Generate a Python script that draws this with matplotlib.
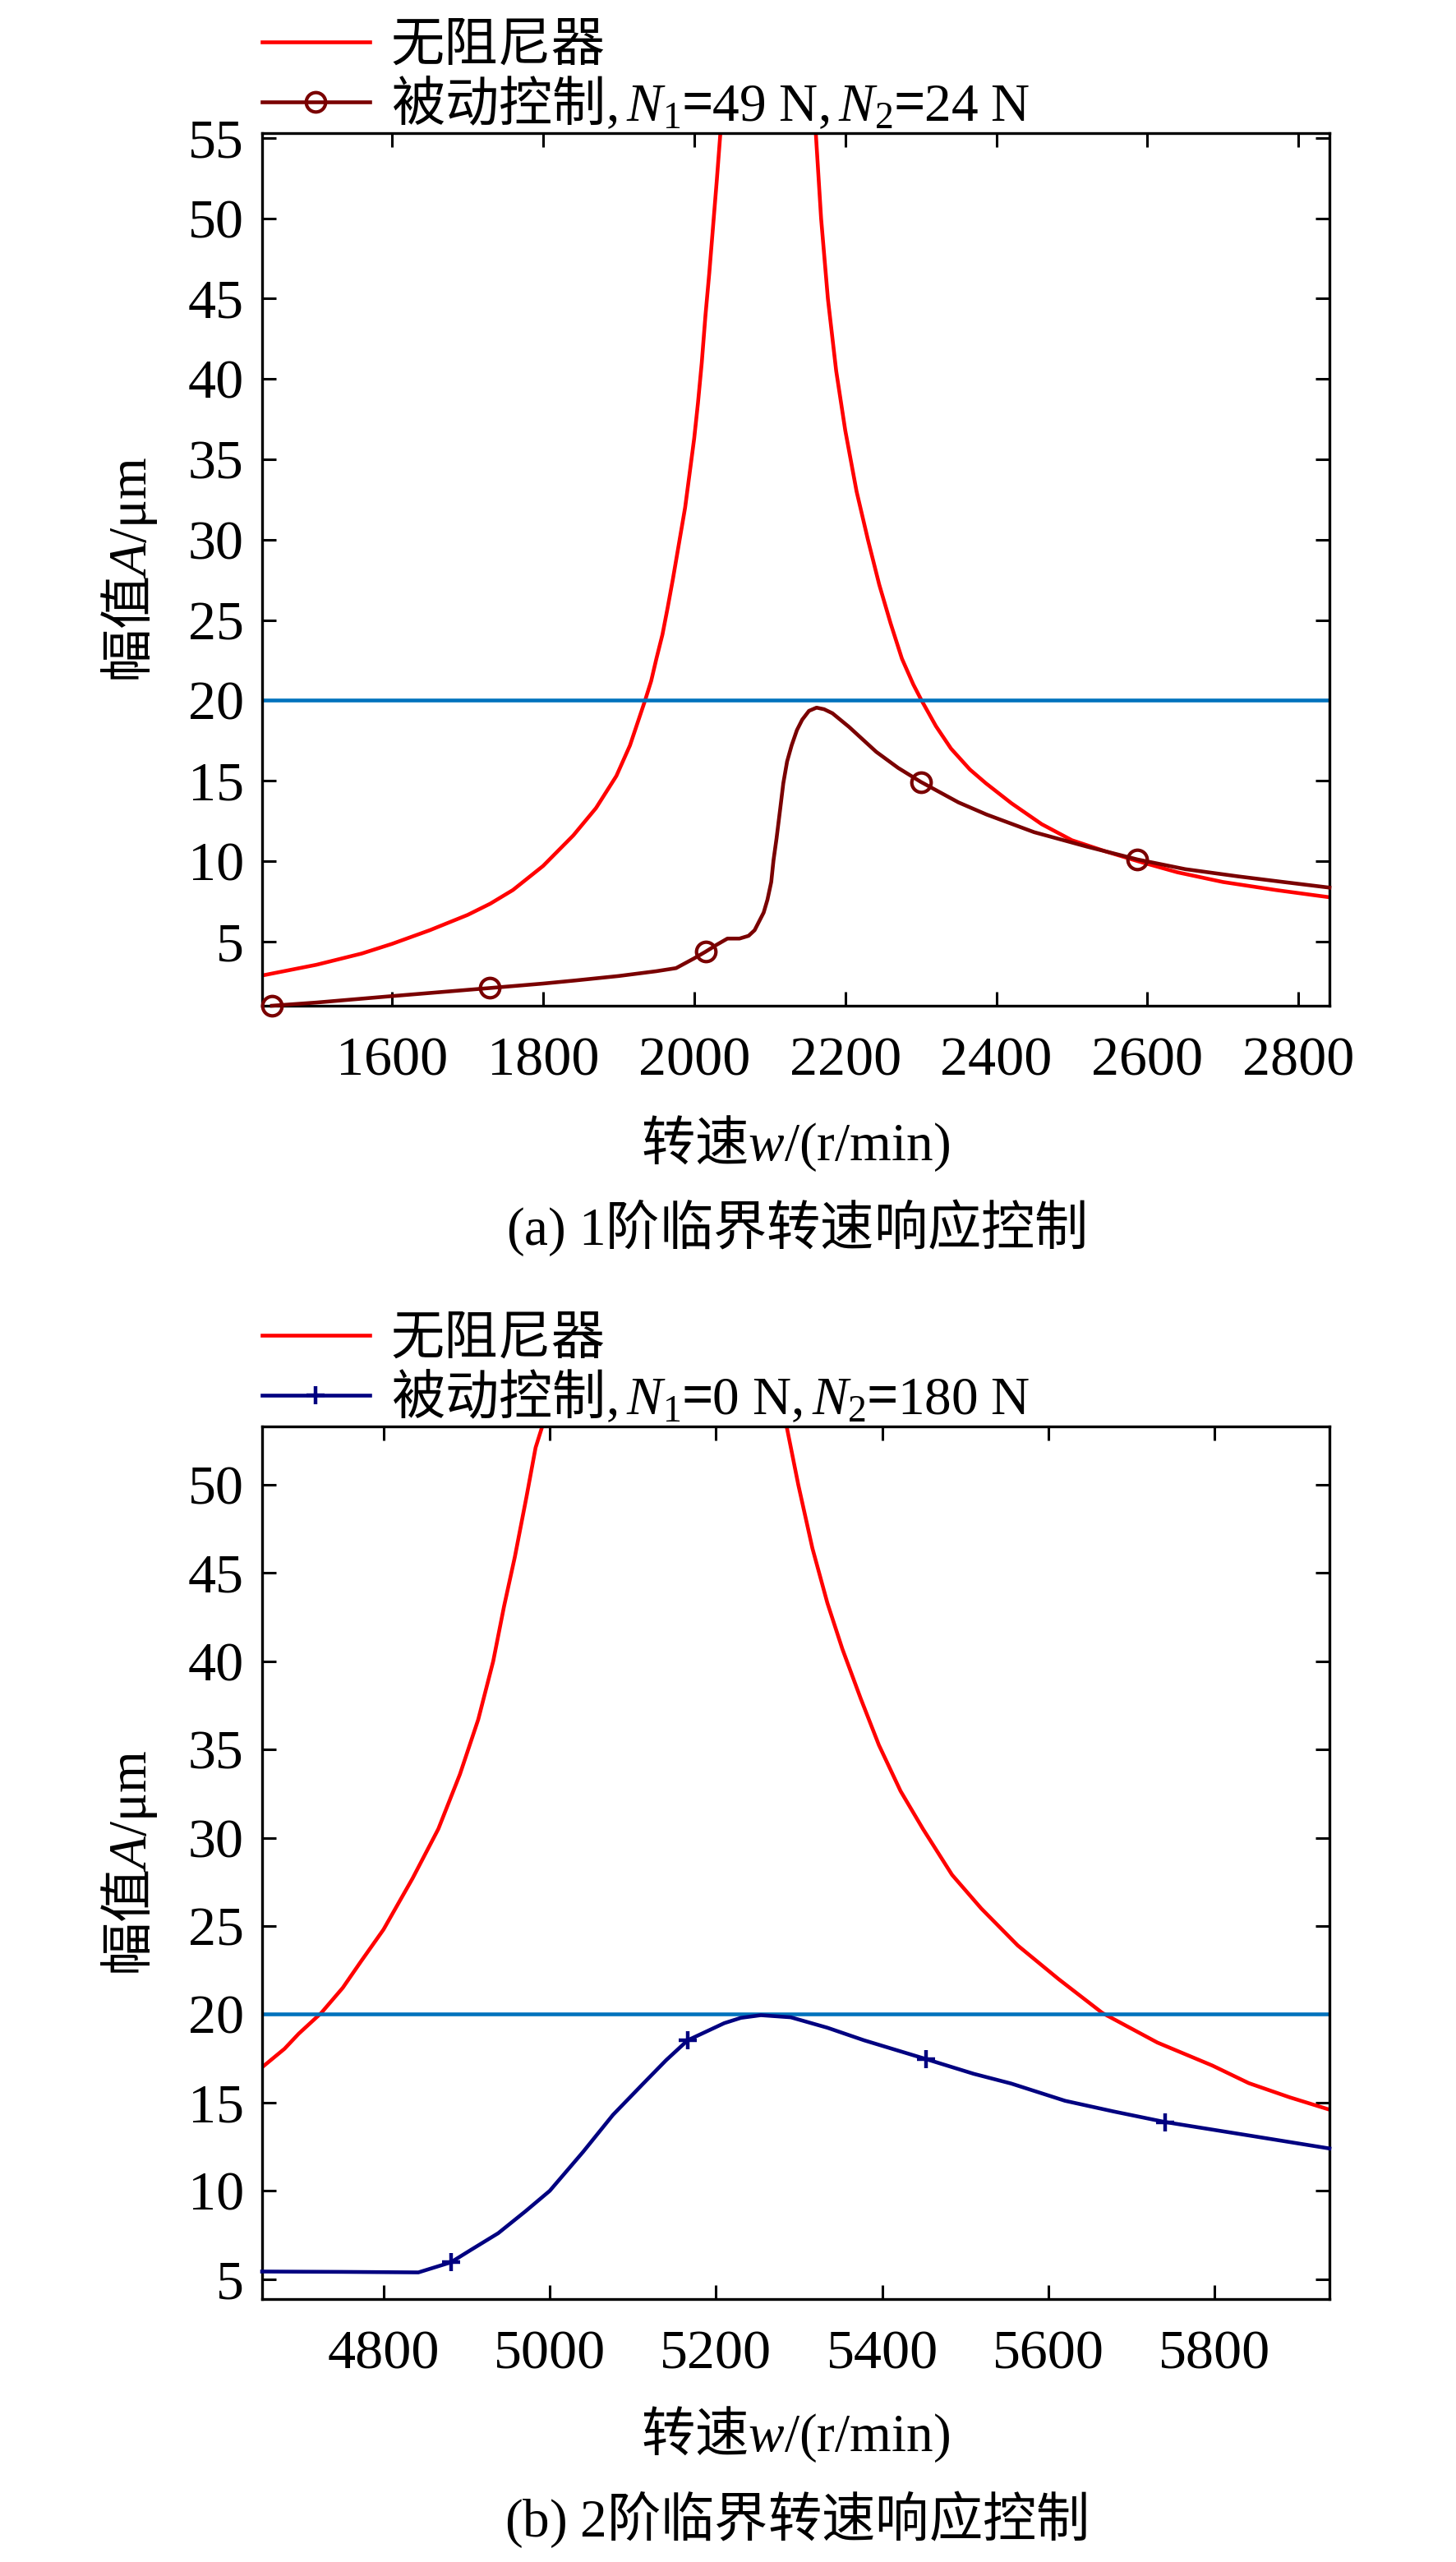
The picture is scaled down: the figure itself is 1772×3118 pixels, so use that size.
import matplotlib
matplotlib.use("Agg")
import matplotlib.pyplot as plt
import numpy as np
from matplotlib.font_manager import FontProperties

# ---- data --------------------------------------------------------------
# (a) first critical speed
RED_A_W = [1430, 1500, 1560, 1600, 1650, 1700, 1730, 1760, 1800, 1840, 1870,
           1897, 1915, 1935, 1943, 1950, 1958, 1965, 1972, 1980, 1988, 1995,
           2000, 2005, 2010, 2015, 2020, 2025, 2030, 2035, 2042,
           2155, 2161, 2168, 2177, 2188, 2200, 2215, 2230, 2245, 2260, 2275,
           2290, 2301, 2320, 2340, 2365, 2386, 2420, 2460, 2500, 2545, 2587,
           2640, 2700, 2770, 2841]
RED_A_A = [2.9, 3.55, 4.25, 4.85, 5.7, 6.65, 7.35, 8.2, 9.7, 11.6, 13.3,
           15.3, 17.2, 20.0, 21.2, 22.6, 24.1, 25.8, 27.6, 29.8, 32.0, 34.5,
           36.3, 38.5, 41.0, 44.0, 46.6, 49.5, 52.4, 55.5, 60.0,
           60.0, 55.3, 50.0, 45.0, 40.5, 36.8, 33.0, 30.0, 27.2, 24.8, 22.6,
           21.0, 20.0, 18.4, 17.0, 15.7, 14.85, 13.6, 12.3, 11.3, 10.6, 10.0,
           9.3, 8.7, 8.2, 7.75]
PASSIVE_A_W = [1441, 1500, 1600, 1729, 1800, 1842, 1900, 1950, 1976, 2000,
               2015, 2030, 2044, 2060, 2072, 2080, 2092, 2097, 2102, 2105,
               2109, 2114, 2118, 2123, 2129, 2136, 2143, 2152, 2162, 2172,
               2183, 2205, 2241, 2270, 2300, 2350, 2387, 2450, 2520, 2587,
               2650, 2720, 2780, 2841]
PASSIVE_A_A = [1.0, 1.2, 1.6, 2.1, 2.38, 2.57, 2.85, 3.15, 3.34, 3.95,
               4.36, 4.8, 5.18, 5.18, 5.35, 5.7, 6.8, 7.6, 8.7, 10.05,
               11.4, 13.3, 14.85, 16.2, 17.2, 18.15, 18.8, 19.35, 19.55, 19.45,
               19.2, 18.35, 16.8, 15.8, 14.93, 13.65, 12.9, 11.8, 10.9, 10.1,
               9.5, 9.05, 8.7, 8.35]
MARK_A_W = [1441, 1729, 2015, 2300, 2587]

# (b) second critical speed
RED_B_W = [4654, 4681, 4698, 4725, 4751, 4773, 4800, 4835, 4866, 4892, 4914,
           4932, 4945, 4958, 4972, 4983, 4991, 4998,
           5280, 5285, 5299, 5316, 5334, 5352, 5374, 5396, 5422, 5449, 5484,
           5519, 5563, 5612, 5665, 5731, 5797, 5841, 5890, 5938]
RED_B_A = [17.0, 18.05, 18.9, 20.07, 21.5, 23.0, 24.8, 27.7, 30.5, 33.6, 36.7,
           40.0, 43.1, 45.9, 49.3, 52.1, 53.3, 57.0,
           57.0, 53.3, 50.0, 46.4, 43.3, 40.7, 37.9, 35.25, 32.65, 30.5, 27.9,
           26.0, 23.9, 22.0, 20.07, 18.4, 17.1, 16.1, 15.3, 14.6]
PASSIVE_B_W = [4654, 4750, 4842, 4881, 4905, 4938, 4971, 5000, 5040, 5076,
               5113, 5140, 5166, 5210, 5230, 5254, 5290, 5334, 5378, 5453,
               5510, 5555, 5620, 5678, 5740, 5846, 5938]
PASSIVE_B_A = [5.43, 5.41, 5.38, 5.95, 6.65, 7.6, 8.85, 10.0, 12.2, 14.3,
               16.1, 17.4, 18.53, 19.5, 19.8, 19.95, 19.83, 19.24, 18.53, 17.46,
               16.63, 16.08, 15.1, 14.5, 13.9, 13.1, 12.4]
MARK_B_W = [4881, 5166, 5453, 5740]

LIMIT_A = 20

LABEL_RED = "无阻尼器"
LABEL_A = "被动控制$,\\mathit{N}_1$=$\\mathrm{49\\ N},\\mathit{N}_2$=$\\mathrm{24\\ N}$"
LABEL_B = "被动控制$,\\mathit{N}_1$=$\\mathrm{0\\ N},\\mathit{N}_2$=$\\mathrm{180\\ N}$"
XLABEL = "转速$\\mathit{w}\\mathrm{/(r/min)}$"
YLABEL = "幅值$\\mathit{A}\\mathrm{/μm}$"
CAPTION_A = "$\\mathrm{(a)\\ 1}$阶临界转速响应控制"
CAPTION_B = "$\\mathrm{(b)\\ 2}$阶临界转速响应控制"

XTICKS_A = [1600, 1800, 2000, 2200, 2400, 2600, 2800]
YTICKS_A = [5, 10, 15, 20, 25, 30, 35, 40, 45, 50, 55]
XTICKS_B = [4800, 5000, 5200, 5400, 5600, 5800]
YTICKS_B = [5, 10, 15, 20, 25, 30, 35, 40, 45, 50]

# ---- style ---------------------------------------------------------------
FS = 47
plt.rcParams["font.family"] = ["Liberation Serif", "Noto Sans CJK SC"]
plt.rcParams["font.size"] = FS
plt.rcParams["mathtext.fontset"] = "custom"
plt.rcParams["mathtext.rm"] = "Liberation Serif"
plt.rcParams["mathtext.it"] = "Liberation Serif:italic"
plt.rcParams["mathtext.bf"] = "Liberation Serif:bold"
plt.rcParams["axes.linewidth"] = 2.4

CJK = FontProperties(family="Noto Sans CJK SC", size=FS)

RED = "#ff0000"
DARKRED = "#7a0000"
NAVY = "#000080"
BLUE = "#0072bd"
LW = 3.3


def style_axes(ax, xlim, ylim, xticks, yticks, xlab_y, cap_y, caption):
    ax.set_xlim(*xlim)
    ax.set_ylim(*ylim)
    ax.set_xticks(xticks)
    ax.set_yticks(yticks)
    ax.tick_params(direction="in", top=True, right=True, length=12, width=2.2,
                   labelsize=49)
    ax.tick_params(axis="x", pad=27)
    ax.tick_params(axis="y", pad=16)
    ax.set_xlabel(XLABEL, fontproperties=CJK, va="center")
    ax.xaxis.set_label_coords(0.5, xlab_y)
    ax.set_ylabel(YLABEL, fontproperties=CJK, va="center")
    ax.yaxis.set_label_coords(-0.124, 0.5)
    ax.text(0.5, cap_y, caption, transform=ax.transAxes, ha="center",
            va="center", fontproperties=CJK)


def add_legend(ax):
    ax.legend(loc="lower left", bbox_to_anchor=(0, 1.0), borderaxespad=0,
              borderpad=0, handlelength=2.0, handletextpad=0.4,
              labelspacing=0.05, frameon=False, prop=CJK, numpoints=1)


fig = plt.figure(figsize=(17.72, 31.18), dpi=100)
ax_a = fig.add_axes([0.18002, 0.60744, 0.73307, 0.34060])
ax_b = fig.add_axes([0.18002, 0.10263, 0.73307, 0.34060])

# panel (a)
ax_a.plot(RED_A_W, RED_A_A, color=RED, lw=LW, label=LABEL_RED)
idx_a = np.flatnonzero(np.isin(PASSIVE_A_W, MARK_A_W)).tolist()
ax_a.plot(PASSIVE_A_W, PASSIVE_A_A, color=DARKRED, lw=LW, marker="o", ms=17,
          mfc="none", mew=3.0, markevery=idx_a, clip_on=False, zorder=3,
          label=LABEL_A)
ax_a.axhline(LIMIT_A, color=BLUE, lw=LW, zorder=2)
style_axes(ax_a, (1428, 2841), (1.0, 55.3), XTICKS_A, YTICKS_A,
           -0.158, -0.254, CAPTION_A)
add_legend(ax_a)

# panel (b)
ax_b.plot(RED_B_W, RED_B_A, color=RED, lw=LW, label=LABEL_RED)
idx_b = np.flatnonzero(np.isin(PASSIVE_B_W, MARK_B_W)).tolist()
ax_b.plot(PASSIVE_B_W, PASSIVE_B_A, color=NAVY, lw=LW, marker="+", ms=16,
          mew=3.2, markevery=idx_b, clip_on=False, zorder=3, label=LABEL_B)
ax_b.axhline(LIMIT_A, color=BLUE, lw=LW, zorder=2)
style_axes(ax_b, (4654, 5938), (3.87, 53.3), XTICKS_B, YTICKS_B,
           -0.155, -0.252, CAPTION_B)
add_legend(ax_b)

fig.savefig("out.png", dpi=100)
